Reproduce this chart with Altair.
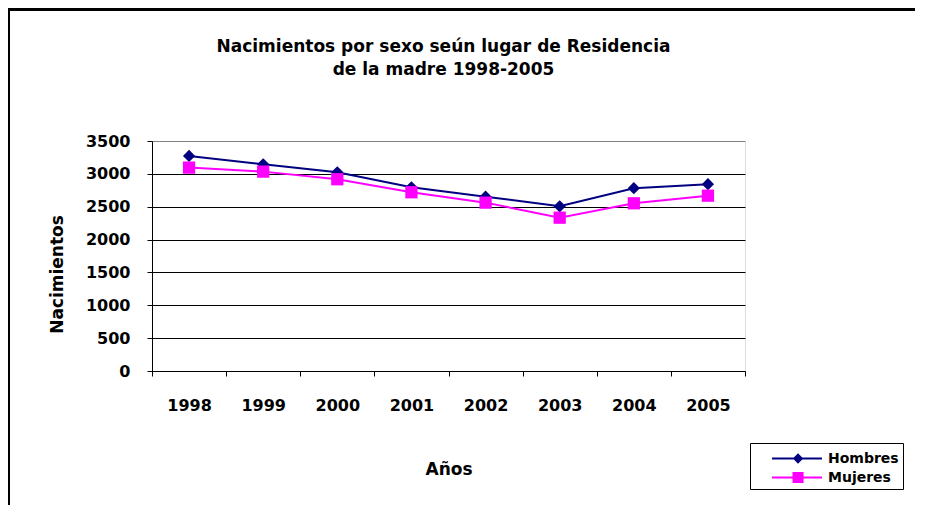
import altair as alt
import pandas as pd

years = ["1998", "1999", "2000", "2001", "2002", "2003", "2004", "2005"]
hombres = [3272, 3146, 3024, 2796, 2653, 2506, 2781, 2842]
mujeres = [3095, 3034, 2918, 2720, 2562, 2333, 2552, 2668]
series_names = ["Hombres", "Mujeres"]
series_colors = ["#000080", "#FF00FF"]

rows = []
for y, h, m in zip(years, hombres, mujeres):
    rows.append({"year": y, "value": h, "series": "Hombres"})
    rows.append({"year": y, "value": m, "series": "Mujeres"})
df = pd.DataFrame(rows)

FONT = "DejaVu Sans"

x_enc = alt.X(
    "year:O",
    scale=alt.Scale(type="band", paddingInner=0, paddingOuter=0),
    axis=alt.Axis(
        title="Años", labelAngle=0, tickBand="extent", tickSize=5,
        labelPadding=21, labelFont=FONT, labelFontSize=16, labelFontWeight="bold",
        labelColor="black", titleFont=FONT, titleFontSize=17, titleFontWeight="bold",
        titleColor="black", titlePadding=48, domainColor="black", tickColor="black",
        domainWidth=1, grid=False,
    ),
)
y_enc = alt.Y(
    "value:Q",
    scale=alt.Scale(domain=[0, 3500], nice=False),
    axis=alt.Axis(
        title="Nacimientos", values=[0, 500, 1000, 1500, 2000, 2500, 3000, 3500],
        format="d",
        tickSize=5, labelPadding=17, labelFont=FONT, labelFontSize=16,
        labelFontWeight="bold", labelColor="black", titleFont=FONT, titleFontSize=17,
        titleFontWeight="bold", titleColor="black", titleX=-95, titleY=133,
        titleAngle=270, titleAlign="center", titleBaseline="middle",
        domainColor="black", tickColor="black", gridColor={"condition": {"test": "datum.value >= 3500", "value": "#808080"}, "value": "black"},
        gridWidth=1, grid=True,
    ),
)

color_scale = alt.Scale(domain=series_names, range=series_colors)

lines = alt.Chart(df).mark_line(strokeWidth=2).encode(
    x=x_enc, y=y_enc,
    color=alt.Color("series:N", scale=color_scale, legend=None),
)

points = alt.Chart(df).mark_point(filled=True, opacity=1).encode(
    x=x_enc, y=y_enc,
    color=alt.Color("series:N", scale=color_scale, legend=None),
    shape=alt.Shape("series:N", scale=alt.Scale(domain=series_names, range=["diamond", "square"]), legend=None),
    size=alt.value(150),
)

line_path = "M0.565,-0.087H4.91V0.087H0.565Z"
path_h = line_path + "M2.83,-0.45L3.28,0L2.83,0.45L2.38,0Z"
path_m = line_path + "M2.35,-0.48H3.31V0.48H2.35Z"

carrier = alt.Chart(df).transform_filter("false").mark_point(filled=True, opacity=1).encode(
    x=x_enc, y=y_enc,
    color=alt.Color(
        "series:N", scale=color_scale,
        legend=alt.Legend(
            title=None, orient="none", legendX=598, legendY=302, padding=4,
            strokeColor="black", fillColor="white", symbolSize=529, rowPadding=0,
            labelOffset=51, labelFont=FONT, labelFontSize=14, labelFontWeight="bold",
            labelColor="black", symbolStrokeWidth=0,
        ),
    ),
    shape=alt.Shape("series:N", scale=alt.Scale(domain=series_names, range=[path_h, path_m])),
)

frame_top = alt.Chart(df).mark_rule(color="black", strokeWidth=2.5).encode(
    x=alt.value(-143), x2=alt.value(763), y=alt.value(-131.5)
)
frame_left = alt.Chart(df).mark_rule(color="black", strokeWidth=2).encode(
    x=alt.value(-143), y=alt.value(-132.5), y2=alt.value(364)
)

chart = alt.layer(lines, points, carrier, frame_top, frame_left).resolve_scale(
    color="independent", shape="independent"
).properties(
    width=593, height=230,
    title=alt.TitleParams(
        text=["Nacimientos por sexo seún lugar de Residencia", "de la madre 1998-2005"],
        font=FONT, fontSize=17, fontWeight="bold", color="black", anchor="middle",
        dx=-5, dy=71, lineHeight=23, offset=0, frame="group",
    ),
    autosize=alt.AutoSizeParams(type="none"),
    padding={"left": 144, "top": 133, "right": 170, "bottom": 134},
).configure_view(stroke="#808080", strokeWidth=2).configure(background="white")

chart.save("out.html", embed_options={"renderer": "svg", "actions": False})
